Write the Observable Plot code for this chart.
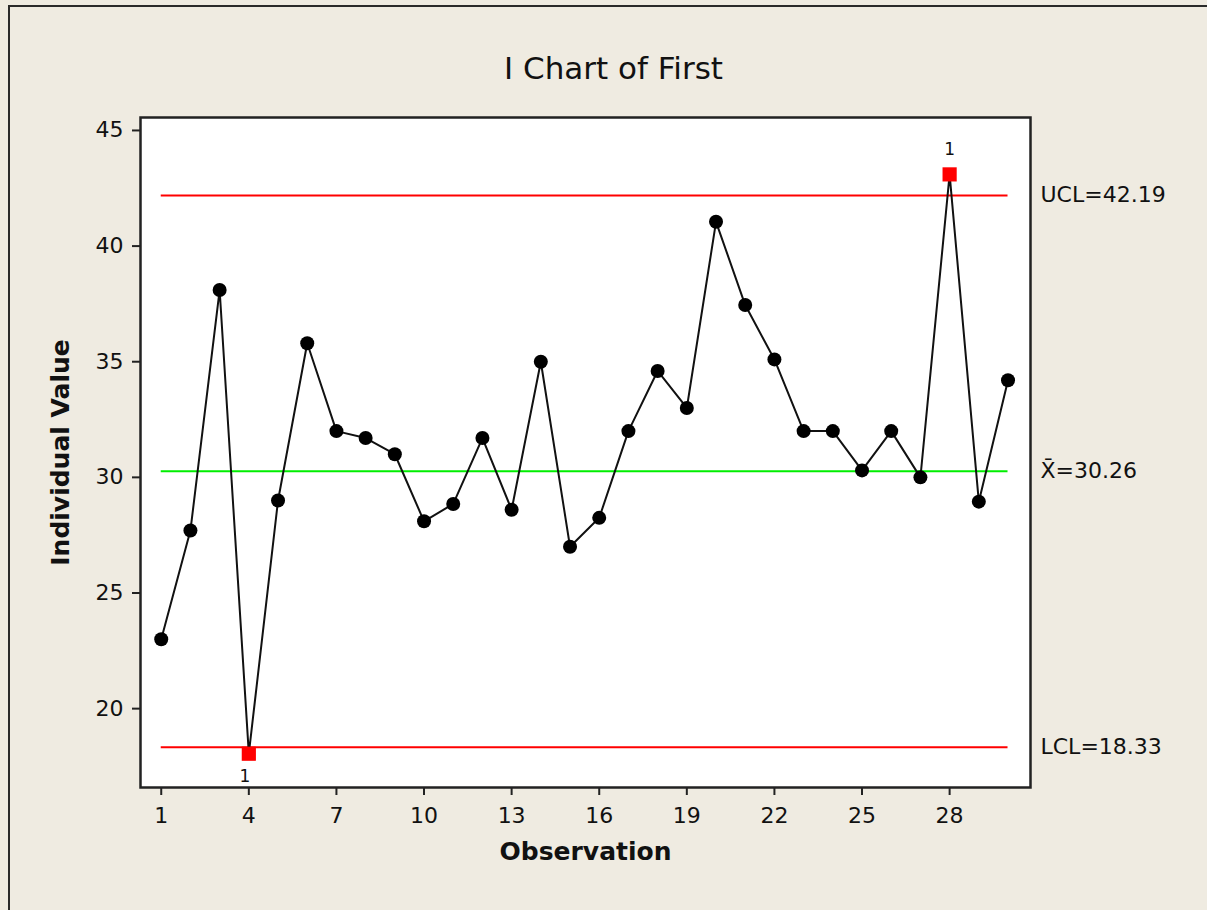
<!DOCTYPE html>
<html>
<head>
<meta charset="utf-8">
<script src="https://cdn.jsdelivr.net/npm/d3@7"></script>
<script src="https://cdn.jsdelivr.net/npm/@observablehq/plot@0.6"></script>
<style>
  html, body { margin: 0; padding: 0; background: #EFEBE1; overflow: hidden; }
  #wrap { position: relative; width: 1207px; height: 910px; }
  #border { position: absolute; left: 8px; top: 5px; width: 1300px; height: 1000px;
            border-top: 2px solid #2a2a2a; border-left: 2px solid #2a2a2a; pointer-events: none; }
</style>
</head>
<body>
<div id="wrap"><div id="border"></div></div>
<script>
const title = "I Chart of First";
const xLabel = "Observation";
const yLabel = "Individual Value";
const observations = d3.range(1, 31);
const values = [23.0, 27.7, 38.1, 18.05, 29.0, 35.8, 32.0, 31.7, 31.0, 28.1,
                28.85, 31.7, 28.6, 35.0, 27.0, 28.25, 32.0, 34.6, 33.0, 41.05,
                37.45, 35.1, 32.0, 32.0, 30.3, 32.0, 30.0, 43.1, 28.95, 34.2];
const UCL = 42.19;
const CL = 30.26;
const LCL = 18.33;
const xTicks = [1, 4, 7, 10, 13, 16, 19, 22, 25, 28];
const yTicks = [20, 25, 30, 35, 40, 45];

const data = observations.map((o, i) => ({obs: o, value: values[i], out: values[i] > UCL || values[i] < LCL}));
const inCtrl = data.filter(d => !d.out);
const outCtrl = data.filter(d => d.out);
const limits = [
  {value: UCL, label: "UCL=42.19", color: "#FF0000"},
  {value: CL, label: "X\u0304=30.26", color: "#00EE00"},
  {value: LCL, label: "LCL=18.33", color: "#FF0000"}
];

const font = "DejaVu Sans, Liberation Sans, sans-serif";

const chart = Plot.plot({
  width: 1207,
  height: 910,
  marginLeft: 140,
  marginRight: 177,
  marginTop: 117,
  marginBottom: 123,
  style: {background: "transparent", fontFamily: font, color: "#111"},
  x: {domain: [0.29, 30.77]},
  y: {domain: [16.59, 45.56]},
  marks: [
    Plot.frame({fill: "white"}),
    Plot.ruleY(limits, {y: "value", x1: 1, x2: 30, stroke: "color", strokeWidth: 2}),
    Plot.line(data, {x: "obs", y: "value", stroke: "#111", strokeWidth: 2}),
    Plot.dot(inCtrl, {x: "obs", y: "value", r: 7, fill: "#000", stroke: "none"}),
    Plot.dot(outCtrl, {x: "obs", y: "value", symbol: "square", r: 8, fill: "#FF0000", stroke: "none"}),
    Plot.text(outCtrl.filter(d => d.value > UCL), {x: "obs", y: "value", text: () => "1", dy: -25, fontSize: 17, fill: "#111"}),
    Plot.text(outCtrl.filter(d => d.value < LCL), {x: "obs", y: "value", text: () => "1", dx: -4, dy: 23, fontSize: 17, fill: "#111"}),
    Plot.text(limits, {y: "value", text: "label", frameAnchor: "right", dx: 10, textAnchor: "start", fontSize: 22, fill: "#111"}),
    Plot.frame({stroke: "#222", strokeWidth: 2.5}),
    Plot.axisX({ticks: xTicks, tickSize: 8, tickPadding: 12, fontSize: 22, label: null, stroke: "#222", strokeWidth: 2}),
    Plot.axisY({ticks: yTicks, tickSize: 8, tickPadding: 9, fontSize: 22, label: null, stroke: "#222", strokeWidth: 2}),
    Plot.text([xLabel], {frameAnchor: "bottom", dy: 72, fontSize: 25, fontWeight: "bold", fill: "#111", text: d => d}),
    Plot.text([title], {frameAnchor: "top", dx: 28, dy: -48, lineAnchor: "middle", fontSize: 31, fill: "#111", text: d => d}),
    Plot.text([yLabel], {frameAnchor: "left", dx: -80, rotate: -90, textAnchor: "middle", fontSize: 25, fontWeight: "bold", fill: "#111", text: d => d})
  ]
});
chart.style.position = "absolute";
chart.style.left = "0px";
chart.style.top = "0px";
document.getElementById("wrap").appendChild(chart);
</script>
</body>
</html>
